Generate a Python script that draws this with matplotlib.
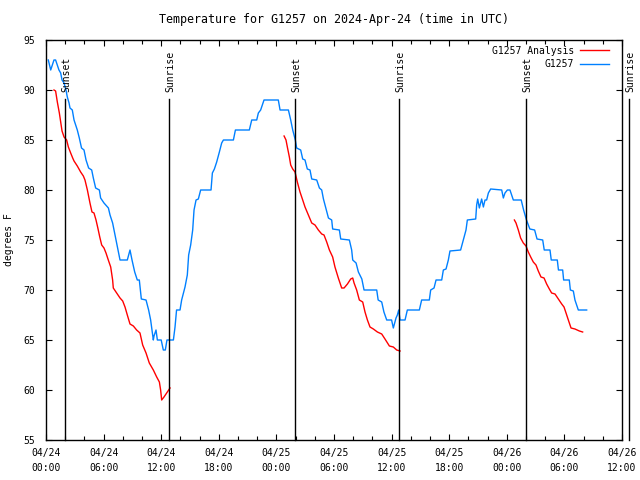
import numpy as np
import matplotlib
matplotlib.use('Agg')
import matplotlib.pyplot as plt

# hours since 04/24 00:00 UTC
obs_t = [0.24, 0.49, 0.83, 1.0, 1.18, 1.35, 1.53, 1.67, 1.88, 2.08, 2.22, 2.4, 2.5, 2.74, 2.92,
         3.26, 3.47, 3.7, 3.96, 4.17, 4.44, 4.76, 4.93, 5.17, 5.56, 5.69, 6.04, 6.5, 6.67, 6.94,
         7.19, 7.43, 7.71, 8.47, 8.75, 8.96, 9.24, 9.51, 9.72, 9.93, 10.42, 10.69, 10.9, 11.11,
         11.18, 11.25, 11.46, 11.6, 12.0, 12.22, 12.43, 12.6, 12.8, 13.27, 13.44, 13.6, 13.96,
         14.13, 14.48, 14.72, 14.86, 15.07, 15.28, 15.42, 15.63, 15.87, 16.11, 17.19, 17.33,
         17.54, 17.78, 18.06, 18.3, 18.48, 19.52, 19.73, 21.18, 21.43, 21.95, 22.12, 22.36,
         22.71, 24.2, 24.38, 25.25, 25.49, 25.7, 25.97, 26.11, 26.53, 26.74, 26.98, 27.22, 27.5,
         27.68, 28.2, 28.48, 28.72, 28.9, 29.17, 29.42, 29.76, 29.86, 30.56, 30.7, 31.6, 31.84,
         31.95, 32.3, 32.54, 32.9, 33.13, 34.45, 34.6, 34.97, 35.2, 35.49, 36.0, 36.18, 36.46,
         36.6, 36.74, 36.88, 37.4, 37.64, 38.89, 39.13, 39.93, 40.07, 40.42, 40.63, 41.22, 41.39,
         41.67, 41.91, 42.08, 43.19, 43.47, 43.75, 43.89, 44.76, 44.86, 44.97, 45.14, 45.38,
         45.56, 45.73, 45.9, 46.08, 46.32, 47.47, 47.64, 47.81, 48.06, 48.33, 48.68, 49.5,
         49.75, 50.05, 50.4, 50.9, 51.15, 51.74, 51.9, 52.5, 52.63, 53.26, 53.38, 53.82, 53.92,
         54.51, 54.62, 54.93, 55.1, 55.45, 56.32]
obs_T = [93, 92, 93, 93, 92.5, 92, 91.7, 91, 90.7, 90, 89.3, 88.7, 88.2, 88, 87,
         86, 85.2, 84.2, 84, 83, 82.2, 82, 81.2, 80.2, 80, 79.2, 78.7, 78.2, 77.5, 76.7,
         75.5, 74.3, 73, 73, 74, 73, 71.8, 71, 71, 69.1, 69, 68, 67, 65.5,
         65, 65.4, 66, 65, 65, 64, 64, 65, 65, 65, 66.3, 68, 68,
         69, 70.3, 71.5, 73.5, 74.5, 76, 78, 79, 79.1, 80, 80, 81.7,
         82.1, 82.8, 83.8, 84.7, 85, 85, 86, 86, 87, 87, 87.7, 88,
         89, 89, 88, 88, 87, 86, 85, 84.2, 84, 83.1, 83, 82.1, 82,
         81.1, 81, 80.2, 80, 79.1, 78.1, 77.2, 77, 76.1, 76, 75.1, 75, 74,
         73, 72.7, 71.8, 71.1, 70, 70, 69, 68.8, 67.8, 67, 67, 66.2, 67.2,
         67.5, 68, 67, 67, 68, 68, 69, 69, 70, 70.2, 71, 71, 72,
         72.1, 73, 73.9, 74, 75, 76, 77, 77.1, 78.5, 79.1, 78.2, 79.1,
         78.3, 79, 79, 79.7, 80.1, 80, 79.2, 79.7, 80, 80, 79, 79,
         78, 77, 76.1, 76, 75.1, 75, 74, 74, 73, 73, 72, 72, 71,
         71, 70, 69.9, 69, 68, 68]

ana1_t = [0.83, 1.0, 1.18, 1.39, 1.53, 1.67, 1.88, 2.15, 2.33, 2.57, 2.78, 2.92, 3.26, 3.61,
          3.89, 4.06, 4.31, 4.58, 4.79, 5.0, 5.21, 5.4, 5.6, 5.8, 6.04, 6.25, 6.49, 6.74, 6.94,
          7.01, 7.36, 7.71, 7.99, 8.23, 8.47, 8.75, 9.1, 9.44, 9.79, 10.07, 10.42, 10.76, 11.18,
          11.53, 11.81, 11.94, 12.05, 12.29, 12.57, 12.92]
ana1_T = [90, 89.9, 88.8, 87.7, 86.8, 85.9, 85.3, 85, 84.3, 83.7, 83.2, 82.9, 82.4, 81.8,
          81.4, 81, 80, 78.7, 77.8, 77.7, 77, 76.2, 75.3, 74.5, 74.2, 73.7, 73, 72.3, 71,
          70.2, 69.7, 69.2, 68.9, 68.3, 67.5, 66.6, 66.4, 66, 65.7, 64.5, 63.7, 62.7, 62,
          61.3, 60.8, 60, 59, 59.3, 59.7, 60.2]
ana2_t = [24.8, 25.0, 25.14, 25.35, 25.49, 25.7, 25.94, 26.18, 26.46, 26.74, 26.98, 27.33,
          27.68, 28.02, 28.37, 28.72, 28.96, 29.24, 29.52, 29.86, 30.1, 30.45, 30.8, 31.05,
          31.4, 31.74, 31.95, 32.09, 32.36, 32.64, 32.99, 33.23, 33.48, 33.75, 34.1, 34.52,
          34.97, 35.31, 35.77, 36.18, 36.53, 36.88]
ana2_T = [85.4, 85, 84.3, 83.3, 82.5, 82.1, 81.8, 80.8, 79.8, 79, 78.3, 77.5,
          76.7, 76.5, 76, 75.6, 75.5, 74.8, 74, 73.3, 72.3, 71.2, 70.2, 70.2,
          70.6, 71.1, 71.2, 70.7, 70, 69, 68.8, 67.8, 67, 66.3, 66.1, 65.8,
          65.6, 65.1, 64.4, 64.3, 64, 63.9]
ana3_t = [48.79, 48.96, 49.2, 49.44, 49.72, 50.0, 50.24, 50.49, 50.76, 51.04, 51.28, 51.56,
          51.88, 52.15, 52.43, 52.67, 53.02, 53.37, 53.72, 53.96, 54.17, 54.41, 54.69, 55.1,
          55.56, 55.9]
ana3_T = [77, 76.7, 76, 75.2, 74.7, 74.4, 73.8, 73.3, 72.8, 72.5, 71.9, 71.3,
          71.2, 70.6, 70.1, 69.7, 69.6, 69.1, 68.6, 68.3, 67.7, 67, 66.2, 66.1,
          65.9, 65.8]

sun_t = [2.0, 12.84, 25.97, 36.8, 50.0, 60.76]
sun_lab = ['Sunset', 'Sunrise', 'Sunset', 'Sunrise', 'Sunset', 'Sunrise']

xtick_h = list(range(0, 61, 6))
xtick_lab = ['04/24\n00:00', '04/24\n06:00', '04/24\n12:00', '04/24\n18:00',
             '04/25\n00:00', '04/25\n06:00', '04/25\n12:00', '04/25\n18:00',
             '04/26\n00:00', '04/26\n06:00', '04/26\n12:00']

plt.rcParams['font.family'] = ['DejaVu Sans Mono']
plt.rcParams['font.size'] = 7

fig = plt.figure(figsize=(6.4, 4.8), dpi=100)
ax = fig.add_axes([46/640, 40/480, 576/640, 400/480])

ax.plot(ana1_t, ana1_T, color='#ff0000', lw=1.0, label='G1257 Analysis')
ax.plot(ana2_t, ana2_T, color='#ff0000', lw=1.0)
ax.plot(ana3_t, ana3_T, color='#ff0000', lw=1.0)
ax.plot(obs_t, obs_T, color='#0080ff', lw=1.0, label='G1257')

# sunrise / sunset markers
for t, lab in zip(sun_t, sun_lab):
    ax.plot([t, t], [55, 89.1], color='black', lw=1.0, clip_on=False)
    ax.text(t + 0.1, 89.8, lab, rotation=90, ha='center', va='bottom', clip_on=False)

ax.set_xlim(0, 60)
ax.set_ylim(55, 95)
ax.set_xticks(xtick_h)
ax.set_xticklabels(xtick_lab, linespacing=1.6)
ax.set_xticks(np.arange(0, 61, 2), minor=True)
ax.set_yticks(range(55, 96, 5))
ax.tick_params(which='both', direction='in', top=True, right=True, width=0.8)
ax.tick_params(which='major', length=4, pad=6)
ax.tick_params(which='minor', length=3)
ax.tick_params(axis='y', pad=8)
for s in ax.spines.values():
    s.set_linewidth(1.0)

ax.set_ylabel('degrees F')
ax.yaxis.set_label_coords(-0.055, 0.5)
ax.set_title('Temperature for G1257 on 2024-Apr-24 (time in UTC)', pad=12)

leg = ax.legend(loc='upper right', frameon=False, markerfirst=False, handlelength=3.0,
                borderaxespad=0.2, labelspacing=0.35, handletextpad=0.6,
                bbox_to_anchor=(1.0 - 7/576, 1.0))
for txt in leg.get_texts():
    txt.set_ha('right')

fig.savefig('out.png', dpi=100)
